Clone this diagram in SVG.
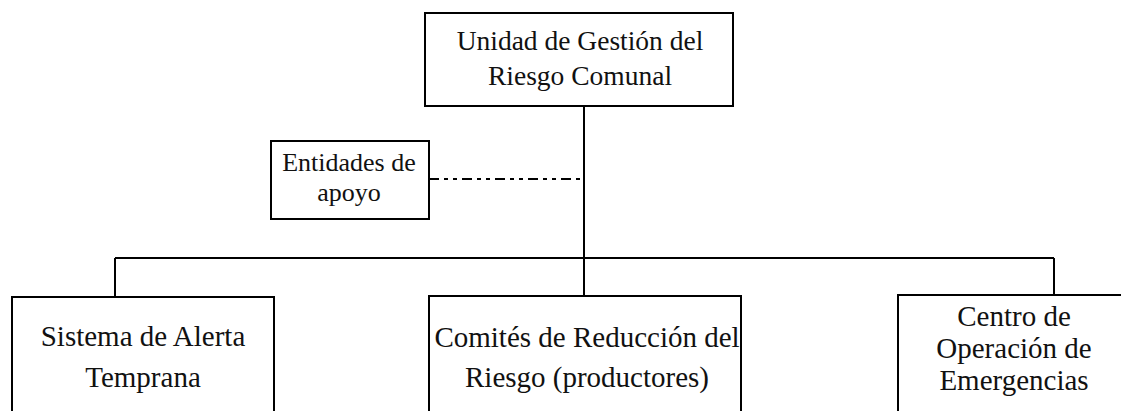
<svg xmlns="http://www.w3.org/2000/svg" width="1121" height="411" viewBox="0 0 1121 411">
<style>
  .box { fill: #fff; stroke: #000; stroke-width: 2; }
  .line { fill: none; stroke: #000; stroke-width: 2; }
  .dash { fill: none; stroke: #000; stroke-width: 2; stroke-dasharray: 10 5 4 5 4 5; }
  .t { font-family: 'Liberation Serif', 'DejaVu Serif', serif; fill: #111; text-anchor: middle; }
  .big { font-size: 29px; }
  .top { font-size: 27.5px; }
  .small { font-size: 26px; }
</style>
<rect width="1121" height="411" fill="#fff"/>
<g id="connectors">
  <path class="line" d="M584 106 V297"/>
  <path class="line" d="M115 258 H1054"/>
  <path class="line" d="M115 258 V297"/>
  <path class="line" d="M1054 258 V295"/>
  <path class="dash" d="M429 179 H584"/>
</g>
<g id="unidad">
  <rect class="box" x="425" y="13" width="308" height="93"/>
  <text class="t top" x="580" y="50">Unidad de Gestión del</text>
  <text class="t top" x="580" y="85">Riesgo Comunal</text>
</g>
<g id="entidades">
  <rect class="box" x="271" y="141" width="158" height="78"/>
  <text class="t small" x="349" y="171">Entidades de</text>
  <text class="t small" x="349" y="201">apoyo</text>
</g>
<g id="sistema">
  <rect class="box" x="12" y="297" width="262" height="130"/>
  <text class="t big" x="143" y="346">Sistema de Alerta</text>
  <text class="t big" x="143" y="387">Temprana</text>
</g>
<g id="comites">
  <rect class="box" x="429" y="296" width="312" height="130"/>
  <text class="t big" x="587" y="347">Comités de Reducción del</text>
  <text class="t big" x="587" y="387">Riesgo (productores)</text>
</g>
<g id="centro">
  <rect class="box" x="898" y="295" width="240" height="130"/>
  <text class="t big" x="1014" y="326">Centro de</text>
  <text class="t big" x="1014" y="358">Operación de</text>
  <text class="t big" x="1014" y="390">Emergencias</text>
</g>
</svg>
